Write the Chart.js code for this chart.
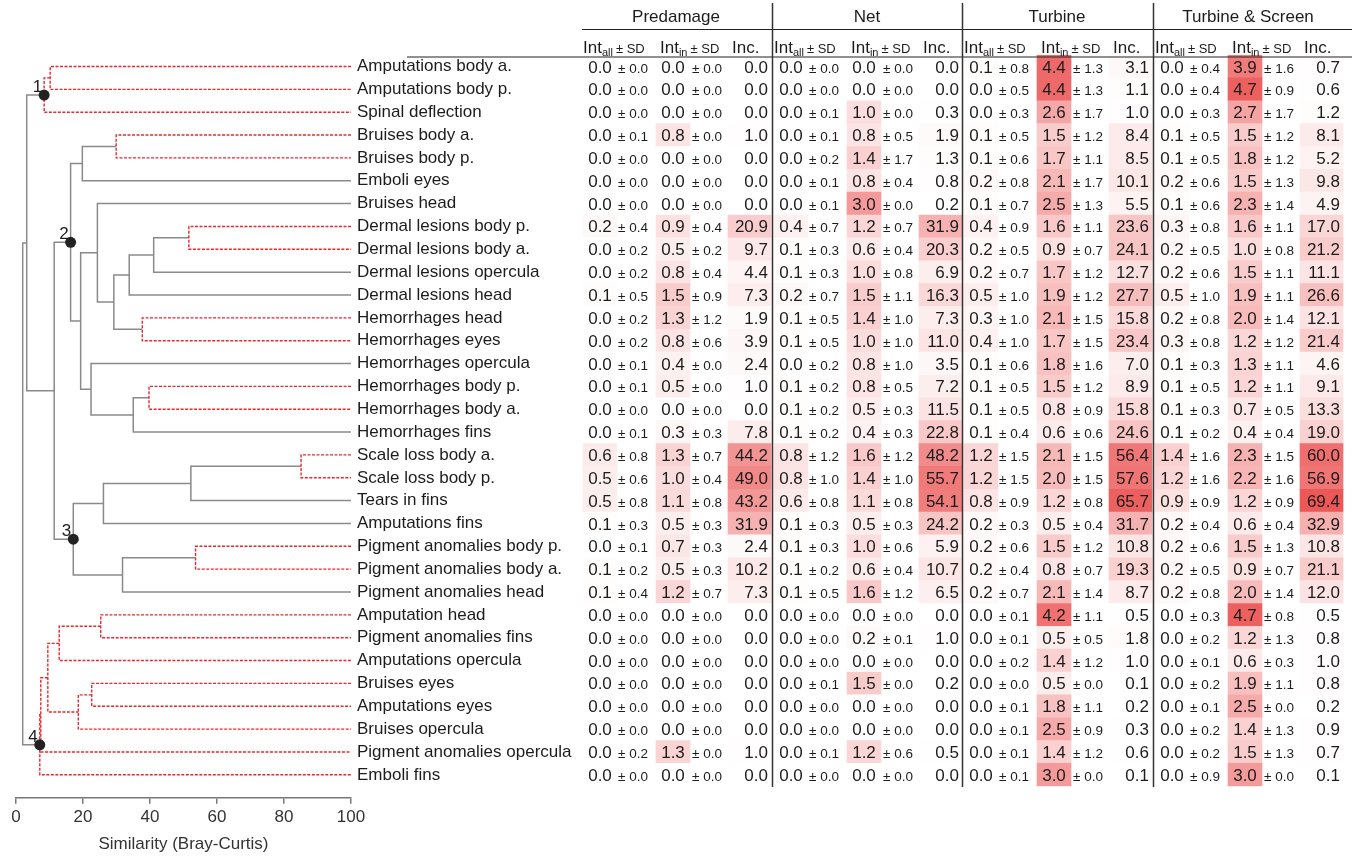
<!DOCTYPE html>
<html><head><meta charset="utf-8">
<script src="https://cdn.jsdelivr.net/npm/chart.js@4.4.1/dist/chart.umd.min.js"></script>
<style>
html,body{margin:0;padding:0;background:#fff;}
#wrap{position:relative;width:1352px;height:856px;overflow:hidden;background:#fff;}
#wrap canvas{position:absolute;left:0;top:0;}
</style></head><body>
<div id="wrap">
<canvas id="tbl" width="1352" height="856"></canvas>
<canvas id="den" width="380" height="856"></canvas>
</div>
<script>
// ---------- DATA ----------
const categories = ['Amputations body a.','Amputations body p.','Spinal deflection','Bruises body a.','Bruises body p.','Emboli eyes','Bruises head','Dermal lesions body p.','Dermal lesions body a.','Dermal lesions opercula','Dermal lesions head','Hemorrhages head','Hemorrhages eyes','Hemorrhages opercula','Hemorrhages body p.','Hemorrhages body a.','Hemorrhages fins','Scale loss body a.','Scale loss body p.','Tears in fins','Amputations fins','Pigment anomalies body p.','Pigment anomalies body a.','Pigment anomalies head','Amputation head','Pigment anomalies fins','Amputations opercula','Bruises eyes','Amputations eyes','Bruises opercula','Pigment anomalies opercula','Emboli fins'];
const groupNames = ['Predamage','Net','Turbine','Turbine & Screen'];

const predIntAll   = [0.0,0.0,0.0,0.0,0.0,0.0,0.0,0.2,0.0,0.0,0.1,0.0,0.0,0.0,0.0,0.0,0.0,0.6,0.5,0.5,0.1,0.0,0.1,0.1,0.0,0.0,0.0,0.0,0.0,0.0,0.0,0.0];
const predIntAllSD = [0.0,0.0,0.0,0.1,0.0,0.0,0.0,0.4,0.2,0.2,0.5,0.2,0.2,0.1,0.1,0.0,0.1,0.8,0.6,0.8,0.3,0.1,0.2,0.4,0.0,0.0,0.0,0.0,0.0,0.0,0.2,0.0];
const predIntIn    = [0.0,0.0,0.0,0.8,0.0,0.0,0.0,0.9,0.5,0.8,1.5,1.3,0.8,0.4,0.5,0.0,0.3,1.3,1.0,1.1,0.5,0.7,0.5,1.2,0.0,0.0,0.0,0.0,0.0,0.0,1.3,0.0];
const predIntInSD  = [0.0,0.0,0.0,0.0,0.0,0.0,0.0,0.4,0.2,0.4,0.9,1.2,0.6,0.0,0.0,0.0,0.3,0.7,0.4,0.8,0.3,0.3,0.3,0.7,0.0,0.0,0.0,0.0,0.0,0.0,0.0,0.0];
const predInc      = [0.0,0.0,0.0,1.0,0.0,0.0,0.0,20.9,9.7,4.4,7.3,1.9,3.9,2.4,1.0,0.0,7.8,44.2,49.0,43.2,31.9,2.4,10.2,7.3,0.0,0.0,0.0,0.0,0.0,0.0,1.0,0.0];

const netIntAll    = [0.0,0.0,0.0,0.0,0.0,0.0,0.0,0.4,0.1,0.1,0.2,0.1,0.1,0.0,0.1,0.1,0.1,0.8,0.8,0.6,0.1,0.1,0.1,0.1,0.0,0.0,0.0,0.0,0.0,0.0,0.0,0.0];
const netIntAllSD  = [0.0,0.0,0.1,0.1,0.2,0.1,0.1,0.7,0.3,0.3,0.7,0.5,0.5,0.2,0.2,0.2,0.2,1.2,1.0,0.8,0.3,0.3,0.2,0.5,0.0,0.0,0.0,0.1,0.0,0.0,0.1,0.0];
const netIntIn     = [0.0,0.0,1.0,0.8,1.4,0.8,3.0,1.2,0.6,1.0,1.5,1.4,1.0,0.8,0.8,0.5,0.4,1.6,1.4,1.1,0.5,1.0,0.6,1.6,0.0,0.2,0.0,1.5,0.0,0.0,1.2,0.0];
const netIntInSD   = [0.0,0.0,0.0,0.5,1.7,0.4,0.0,0.7,0.4,0.8,1.1,1.0,1.0,1.0,0.5,0.3,0.3,1.2,1.0,0.8,0.3,0.6,0.4,1.2,0.0,0.1,0.0,0.0,0.0,0.0,0.6,0.0];
const netInc       = [0.0,0.0,0.3,1.9,1.3,0.8,0.2,31.9,20.3,6.9,16.3,7.3,11.0,3.5,7.2,11.5,22.8,48.2,55.7,54.1,24.2,5.9,10.7,6.5,0.0,1.0,0.0,0.2,0.0,0.0,0.5,0.0];

const turIntAll    = [0.1,0.0,0.0,0.1,0.1,0.2,0.1,0.4,0.2,0.2,0.5,0.3,0.4,0.1,0.1,0.1,0.1,1.2,1.2,0.8,0.2,0.2,0.2,0.2,0.0,0.0,0.0,0.0,0.0,0.0,0.0,0.0];
const turIntAllSD  = [0.8,0.5,0.3,0.5,0.6,0.8,0.7,0.9,0.5,0.7,1.0,1.0,1.0,0.6,0.5,0.5,0.4,1.5,1.5,0.9,0.3,0.6,0.4,0.7,0.1,0.1,0.2,0.0,0.1,0.1,0.1,0.1];
const turIntIn     = [4.4,4.4,2.6,1.5,1.7,2.1,2.5,1.6,0.9,1.7,1.9,2.1,1.7,1.8,1.5,0.8,0.6,2.1,2.0,1.2,0.5,1.5,0.8,2.1,4.2,0.5,1.4,0.5,1.8,2.5,1.4,3.0];
const turIntInSD   = [1.3,1.3,1.7,1.2,1.1,1.7,1.3,1.1,0.7,1.2,1.2,1.5,1.5,1.6,1.2,0.9,0.6,1.5,1.5,0.8,0.4,1.2,0.7,1.4,1.1,0.5,1.2,0.0,1.1,0.9,1.2,0.0];
const turInc       = [3.1,1.1,1.0,8.4,8.5,10.1,5.5,23.6,24.1,12.7,27.7,15.8,23.4,7.0,8.9,15.8,24.6,56.4,57.6,65.7,31.7,10.8,19.3,8.7,0.5,1.8,1.0,0.1,0.2,0.3,0.6,0.1];

const tsIntAll     = [0.0,0.0,0.0,0.1,0.1,0.2,0.1,0.3,0.2,0.2,0.5,0.2,0.3,0.1,0.1,0.1,0.1,1.4,1.2,0.9,0.2,0.2,0.2,0.2,0.0,0.0,0.0,0.0,0.0,0.0,0.0,0.0];
const tsIntAllSD   = [0.4,0.4,0.3,0.5,0.5,0.6,0.6,0.8,0.5,0.6,1.0,0.8,0.8,0.3,0.5,0.3,0.2,1.6,1.6,0.9,0.4,0.6,0.5,0.8,0.3,0.2,0.1,0.2,0.1,0.2,0.2,0.9];
const tsIntIn      = [3.9,4.7,2.7,1.5,1.8,1.5,2.3,1.6,1.0,1.5,1.9,2.0,1.2,1.3,1.2,0.7,0.4,2.3,2.2,1.2,0.6,1.5,0.9,2.0,4.7,1.2,0.6,1.9,2.5,1.4,1.5,3.0];
const tsIntInSD    = [1.6,0.9,1.7,1.2,1.2,1.3,1.4,1.1,0.8,1.1,1.1,1.4,1.2,1.1,1.1,0.5,0.4,1.5,1.6,0.9,0.4,1.3,0.7,1.4,0.8,1.3,0.3,1.1,0.0,1.3,1.3,0.0];
const tsInc        = [0.7,0.6,1.2,8.1,5.2,9.8,4.9,17.0,21.2,11.1,26.6,12.1,21.4,4.6,9.1,13.3,19.0,60.0,56.9,69.4,32.9,10.8,21.1,12.0,0.5,0.8,1.0,0.8,0.2,0.9,0.7,0.1];

// Dendrogram merges: children 'L#' = leaf row, 'N#' = earlier node
const nodeLeft       = ['L0','N0','L3','N2','L7','N4','N5','L11','N6','L6','L14','N10','L13','N9','N3','L17','N15','N16','L21','N18','N17','N14','N1','L24','N23','L27','N25','N24','N27','N28','N22'];
const nodeRight      = ['L1','L2','L4','L5','L8','L9','L10','L12','N7','N8','L15','L16','N11','N12','N13','L18','L19','L20','L22','L23','N19','N20','N21','L25','L26','L28','L29','N26','L30','L31','N29'];
const nodeSimilarity = [10.2,8.4,29.9,19.8,51.6,41.1,33.8,37.7,29.2,24.3,39.7,35.0,22.4,19.3,16.3,85.1,52.2,26.1,53.6,31.8,17.1,11.4,3.2,25.3,12.9,22.6,18.6,9.5,7.4,7.1,2.0];
const nodeNotSignif  = [1,1,1,0,1,0,0,1,0,0,1,0,0,0,0,1,0,0,1,0,0,0,0,1,1,1,1,1,1,1,0];
const clusterNodes   = [1,14,20,29];
const clusterLabels  = ['1','2','3','4'];

// ---------- STYLE / LAYOUT ----------
const FONT = "'Liberation Sans', Arial, Helvetica, sans-serif";
Chart.defaults.font.family = FONT;
Chart.defaults.color = '#1c1c1c';
const TXT = '#1c1c1c';
const RED = '#e8282e';
const GRAY = '#8a8a8a';

const GROUP_X = [581, 772, 962, 1153];
const CELL = {all:[2,36], inn:[75,109], inc:[147,190]};

function heat(v, vmax){
  const t = Math.max(0, Math.min(1, v / vmax));
  const r = Math.round(255 - t * (255 - 236));
  const g = Math.round(255 - t * (255 - 86));
  return `rgb(${r},${g},${g})`;
}

const groupData = [
  {all:predIntAll, allSD:predIntAllSD, inn:predIntIn, inSD:predIntInSD, inc:predInc},
  {all:netIntAll,  allSD:netIntAllSD,  inn:netIntIn,  inSD:netIntInSD,  inc:netInc},
  {all:turIntAll,  allSD:turIntAllSD,  inn:turIntIn,  inSD:turIntInSD,  inc:turInc},
  {all:tsIntAll,   allSD:tsIntAllSD,   inn:tsIntIn,   inSD:tsIntInSD,   inc:tsInc}
];

// ---------- TABLE CHART ----------
const cellDatasets = [];
groupData.forEach((gd, g) => {
  [['all',5],['inn',5],['inc',70]].forEach(([key, vmax]) => {
    const vals = gd[key];
    cellDatasets.push({
      type:'bar',
      data: vals.map(() => [GROUP_X[g] + CELL[key][0], GROUP_X[g] + CELL[key][1]]),
      backgroundColor: vals.map(v => heat(v, vmax)),
      borderWidth: 0,
      grouped: false,
      categoryPercentage: 1,
      barPercentage: 1
    });
  });
});

const f1 = v => v.toFixed(1);

const tablePlugin = {
  id:'tableText',
  afterDatasetsDraw(chart){
    const ctx = chart.ctx, xs = chart.scales.x, ys = chart.scales.y;
    ctx.save();
    ctx.fillStyle = TXT;
    ctx.textBaseline = 'alphabetic';
    groupData.forEach((gd, g) => {
      const X = off => xs.getPixelForValue(GROUP_X[g] + off);
      ctx.font = `17px ${FONT}`;
      ctx.textAlign = 'center';
      ctx.fillText(groupNames[g], X(95), 22);
      const sub = (x0, s) => {
        ctx.textAlign = 'left';
        ctx.font = `17px ${FONT}`;
        ctx.fillText('Int', x0, 52.5);
        let x = x0 + ctx.measureText('Int').width;
        ctx.font = `11px ${FONT}`;
        ctx.fillText(s, x, 56);
        x += ctx.measureText(s).width + 3;
        ctx.font = `13px ${FONT}`;
        ctx.fillText('\u00b1 SD', x, 52.5);
      };
      sub(X(2), 'all');
      sub(X(79), 'in');
      ctx.font = `17px ${FONT}`;
      ctx.textAlign = 'left';
      ctx.fillText('Inc.', X(151), 52.5);
      categories.forEach((_, i) => {
        const yb = ys.getPixelForValue(i) + 6;
        ctx.font = `17px ${FONT}`;
        ctx.textAlign = 'center';
        ctx.fillText(f1(gd.all[i]), X(19), yb);
        ctx.fillText(f1(gd.inn[i]), X(92), yb);
        ctx.textAlign = 'right';
        ctx.fillText(f1(gd.inc[i]), X(187), yb);
        ctx.font = `13.5px ${FONT}`;
        ctx.textAlign = 'left';
        ctx.fillText('\u00b1 ' + f1(gd.allSD[i]), X(37), yb);
        ctx.fillText('\u00b1 ' + f1(gd.inSD[i]), X(111), yb);
      });
    });
    ctx.strokeStyle = '#222';
    ctx.lineWidth = 1.2;
    ctx.beginPath();
    ctx.moveTo(407, 57); ctx.lineTo(1352, 57);
    ctx.moveTo(582, 29.5); ctx.lineTo(1352, 29.5);
    ctx.stroke();
    ctx.strokeStyle = '#333';
    ctx.lineWidth = 1.5;
    ctx.beginPath();
    [1,2,3].forEach(g => {
      const x = xs.getPixelForValue(GROUP_X[g]) + 0.5;
      ctx.moveTo(x, 3); ctx.lineTo(x, 787);
    });
    ctx.stroke();
    ctx.restore();
  }
};

new Chart(document.getElementById('tbl'), {
  type:'bar',
  data:{labels: categories, datasets: cellDatasets},
  options:{
    indexAxis:'y',
    responsive:false,
    animation:false,
    events:[],
    layout:{padding:{left:357, right:0, top:55.1, bottom:69.7}},
    plugins:{legend:{display:false}, tooltip:{enabled:false}},
    scales:{
      x:{type:'linear', min:577, max:1352, display:false},
      y:{type:'category', position:'left', offset:true,
         grid:{display:false}, border:{display:false},
         ticks:{autoSkip:false, crossAlign:'far', padding:0, color:TXT, font:{size:17, family:FONT}},
         afterFit: s => { s.width = 220; }
      }
    }
  },
  plugins:[tablePlugin]
});

// ---------- DENDROGRAM CHART ----------
const nodePos = [];
function refPos(ref){
  if (ref[0] === 'L') return {x:100, y:+ref.slice(1)};
  return nodePos[+ref.slice(1)];
}
nodeSimilarity.forEach((s, k) => {
  const a = refPos(nodeLeft[k]), b = refPos(nodeRight[k]);
  nodePos[k] = {x:s, y:(a.y + b.y) / 2};
});
const linkDatasets = nodeSimilarity.map((s, k) => {
  const a = refPos(nodeLeft[k]), b = refPos(nodeRight[k]);
  const red = nodeNotSignif[k] === 1;
  return {
    data:[{x:a.x, y:a.y},{x:s, y:a.y},{x:s, y:b.y},{x:b.x, y:b.y}],
    showLine:true, fill:false, tension:0,
    borderColor: red ? RED : GRAY,
    borderWidth: red ? 1.4 : 1.5,
    borderDash: red ? [3,1.5] : [],
    pointRadius:0, pointHoverRadius:0,
    clip:false,
    order: red ? 0 : 1
  };
});
const dotDataset = {
  data: clusterNodes.map(k => ({x:nodePos[k].x, y:nodePos[k].y})),
  showLine:false,
  pointRadius:5.5, pointHoverRadius:5.5,
  backgroundColor:'#222', borderColor:'#222', borderWidth:0,
  clip:false, order:-1
};
const dotLabelPlugin = {
  id:'dotLabels',
  afterDatasetsDraw(chart){
    const meta = chart.getDatasetMeta(chart.data.datasets.length - 1);
    const ctx = chart.ctx;
    ctx.save();
    ctx.fillStyle = TXT;
    ctx.font = `17px ${FONT}`;
    ctx.textAlign = 'right';
    ctx.textBaseline = 'alphabetic';
    meta.data.forEach((pt, i) => {
      ctx.fillText(clusterLabels[i], pt.x - 2, pt.y - 3);
    });
    ctx.restore();
  }
};

new Chart(document.getElementById('den'), {
  type:'scatter',
  data:{datasets:[...linkDatasets, dotDataset]},
  options:{
    responsive:false,
    animation:false,
    events:[],
    layout:{padding:{left:16, right:29, top:43.65, bottom:0}},
    plugins:{legend:{display:false}, tooltip:{enabled:false}},
    scales:{
      x:{type:'linear', min:0, max:100, position:'bottom',
         ticks:{stepSize:20, padding:3, color:'#333', font:{size:17, family:FONT}},
         grid:{drawOnChartArea:false, drawTicks:true, tickLength:6, color:'#777', lineWidth:1.5},
         border:{display:true, color:'#777', width:1.5},
         title:{display:true, text:'Similarity (Bray-Curtis)', color:'#333', font:{size:17, family:FONT}, padding:{top:0, bottom:1}},
         afterFit: s => { s.height = 58.35; }
      },
      y:{type:'linear', min:-1, max:32, reverse:true, display:false}
    }
  },
  plugins:[dotLabelPlugin]
});
</script>
</body></html>
